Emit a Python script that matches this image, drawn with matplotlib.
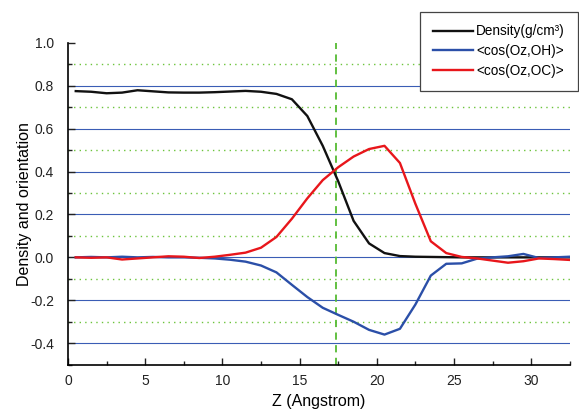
import numpy as np
import matplotlib
matplotlib.use("Agg")
import matplotlib.pyplot as plt
from matplotlib.ticker import MultipleLocator

plt.rcParams["font.family"] = ["Liberation Sans", "DejaVu Sans"]
plt.rcParams["axes.unicode_minus"] = False

# ── data ──────────────────────────────────────────────────────────────────────
z = [0.5, 1.5, 2.5, 3.5, 4.5, 5.5, 6.5, 7.5, 8.5, 9.5, 10.5,
     11.5, 12.5, 13.5, 14.5, 15.5, 16.5, 17.5, 18.5, 19.5, 20.5, 21.5,
     22.5, 23.5, 24.5, 25.5, 26.5, 27.5, 28.5, 29.5, 30.5, 31.5, 32.5]

density = [0.775, 0.772, 0.765, 0.768, 0.779, 0.774, 0.769, 0.768, 0.768, 0.770, 0.773,
           0.776, 0.772, 0.762, 0.737, 0.659, 0.520, 0.355, 0.170, 0.065, 0.020, 0.006,
           0.003, 0.002, 0.001, 0.000, 0.000, 0.000, 0.000, 0.000, 0.000, 0.000, 0.000]

cos_oh = [0.000, 0.002, 0.000, 0.003, 0.000, 0.002, 0.000, 0.000, -0.002, -0.005, -0.011,
          -0.020, -0.038, -0.070, -0.128, -0.185, -0.235, -0.268, -0.300, -0.338, -0.360, -0.333,
          -0.220, -0.085, -0.030, -0.028, -0.006, 0.000, 0.005, 0.016, -0.003, 0.000, 0.003]

cos_oc = [0.000, -0.002, 0.000, -0.010, -0.005, 0.000, 0.005, 0.003, -0.003, 0.003, 0.012,
          0.022, 0.045, 0.095, 0.180, 0.275, 0.360, 0.420, 0.470, 0.505, 0.520, 0.440,
          0.250, 0.075, 0.020, 0.002, -0.005, -0.015, -0.025, -0.018, -0.005, -0.008, -0.012]

labels = ["Density(g/cm³)", "<cos(Oz,OH)>", "<cos(Oz,OC)>"]
colors = ["#111111", "#2b4fa8", "#e8161b"]

z_mark = 17.33
major_grid = [-0.4, -0.2, 0.0, 0.2, 0.4, 0.6, 0.8]
minor_grid = [-0.3, -0.1, 0.1, 0.3, 0.5, 0.7, 0.9]

# ── figure ────────────────────────────────────────────────────────────────────
fig = plt.figure(figsize=(5.79, 4.12), dpi=100)
ax = fig.add_axes([0.1175, 0.115, 0.8665, 0.781])

for y in major_grid:
    ax.axhline(y, color="#3a5db5", lw=0.8, zorder=1)
for y in minor_grid:
    ax.axhline(y, color="#6cc43c", lw=1.0, ls=(0, (1, 3)), zorder=1)
ax.axvline(z_mark, color="#55bb33", lw=1.3, ls=(0, (4, 3)), zorder=1)

for series, lab, col in zip([density, cos_oh, cos_oc], labels, colors):
    ax.plot(z, series, color=col, lw=1.7, label=lab, zorder=3)

ax.set_xlim(0, 32.5)
ax.set_ylim(-0.5, 1.0)
ax.xaxis.set_major_locator(MultipleLocator(5))
ax.xaxis.set_minor_locator(MultipleLocator(2.5))
ax.yaxis.set_minor_locator(MultipleLocator(0.1))
ax.set_yticks([-0.4, -0.2, 0.0, 0.2, 0.4, 0.6, 0.8, 1.0])
ax.yaxis.set_major_formatter(plt.FuncFormatter(lambda v, p: f"{v:.1f}"))

ax.tick_params(which="both", direction="in", labelsize=10, colors="#222222")
ax.tick_params(which="major", length=5, width=1.0)
ax.tick_params(which="minor", length=3, width=1.0)
ax.tick_params(axis="x", pad=7)
ax.tick_params(axis="y", pad=10)

for side in ["top", "right"]:
    ax.spines[side].set_visible(False)
for side in ["left", "bottom"]:
    ax.spines[side].set_linewidth(1.2)

ax.set_xlabel("Z (Angstrom)", fontsize=11.5, labelpad=4)
ax.set_ylabel("Density and orientation", fontsize=11.5, labelpad=-1)

leg = ax.legend(loc="upper right", bbox_to_anchor=(0.998, 0.972),
                bbox_transform=fig.transFigure, borderaxespad=0,
                fontsize=9.8, handlelength=3.0, handletextpad=0.2,
                labelspacing=0.42, fancybox=False, framealpha=1,
                borderpad=0.95)
leg.get_frame().set_edgecolor("#444444")
leg.get_frame().set_linewidth(0.9)

fig.savefig("out.png", dpi=100)
